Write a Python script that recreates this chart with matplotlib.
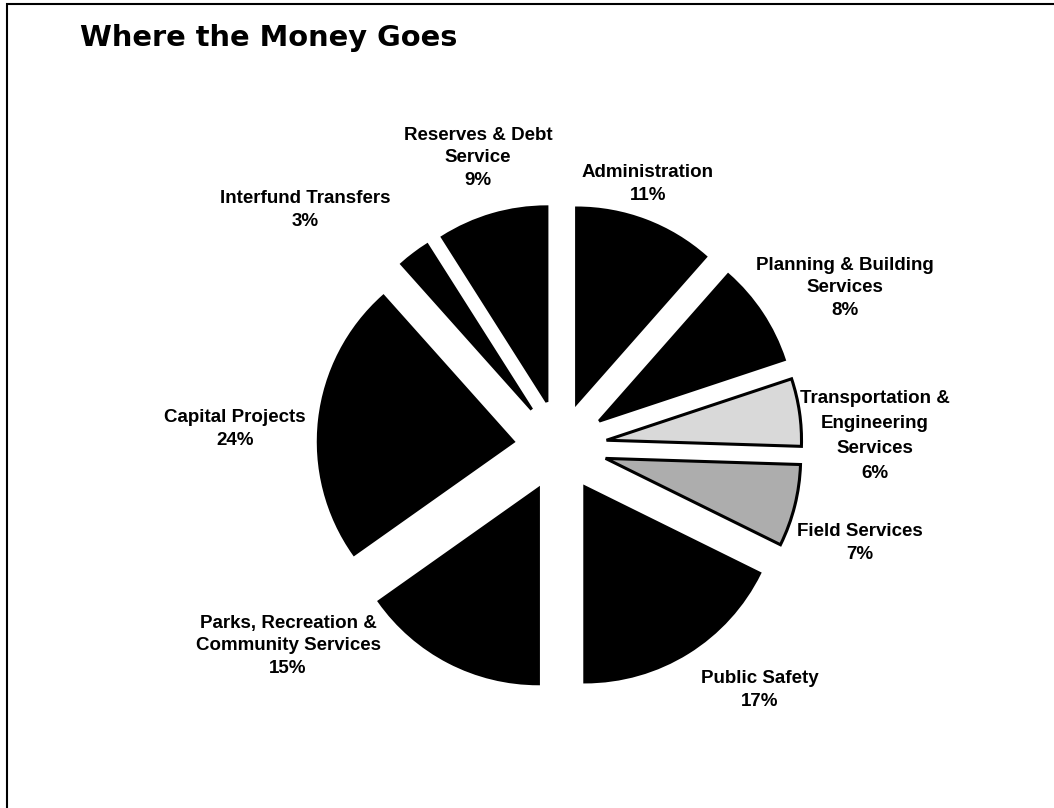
import matplotlib.pyplot as plt
from matplotlib.patches import Rectangle

categories = ["Administration", "Planning & Building\nServices", "Transportation &\nEngineering\nServices",
              "Field Services", "Public Safety", "Parks, Recreation &\nCommunity Services",
              "Capital Projects", "Interfund Transfers", "Reserves & Debt\nService"]
# printed percentages
pct_labels = ["11%", "8%", "6%", "7%", "17%", "15%", "24%", "3%", "9%"]
# slice sizes (printed values are rounded)
shares = [11.5, 8.4, 5.6, 6.8, 17.7, 15.2, 23.2, 2.6, 9.0]

# slice fills: only two services are shaded grey
colors = ["black", "black", "#d9d9d9", "#adadad", "black", "black", "black", "black", "black"]

# label centres in picture pixels (x, y from top)
label_xy = [(648, 184), (845, 288), (875, 436), (860, 543), (760, 690),
            (288, 646), (235, 429), (305, 210), (478, 158)]

W, H = 1054, 808
fig = plt.figure(figsize=(W / 100, H / 100), dpi=100)
ax = fig.add_axes([0, 0, 1, 1])

ax.pie(shares, radius=195, center=(560, H - 447), startangle=90, counterclock=False,
       explode=[47] * len(shares), colors=colors,
       wedgeprops=dict(edgecolor="black", linewidth=2.2))
ax.set_xlim(0, W)
ax.set_ylim(0, H)
ax.set_aspect("equal")
ax.axis("off")

for name, pct, (x, y) in zip(categories, pct_labels, label_xy):
    ls = 1.6 if name.startswith("Transportation") else 1.45
    ax.text(x, H - y, f"{name}\n{pct}", ha="center", va="center", multialignment="center",
            fontsize=13.5, fontweight="bold", family="Liberation Sans", linespacing=ls)

ax.text(80, H - 46, "Where the Money Goes", fontsize=20.8, fontweight="bold",
        family="DejaVu Sans", ha="left", va="baseline")

# page frame (only the top and left edges show)
fig.add_artist(Rectangle((7 / W, -0.05), 1.1, 1.05 - 4 / H, transform=fig.transFigure,
                         fill=False, edgecolor="black", linewidth=1.5))

fig.savefig("out.png", dpi=100)
